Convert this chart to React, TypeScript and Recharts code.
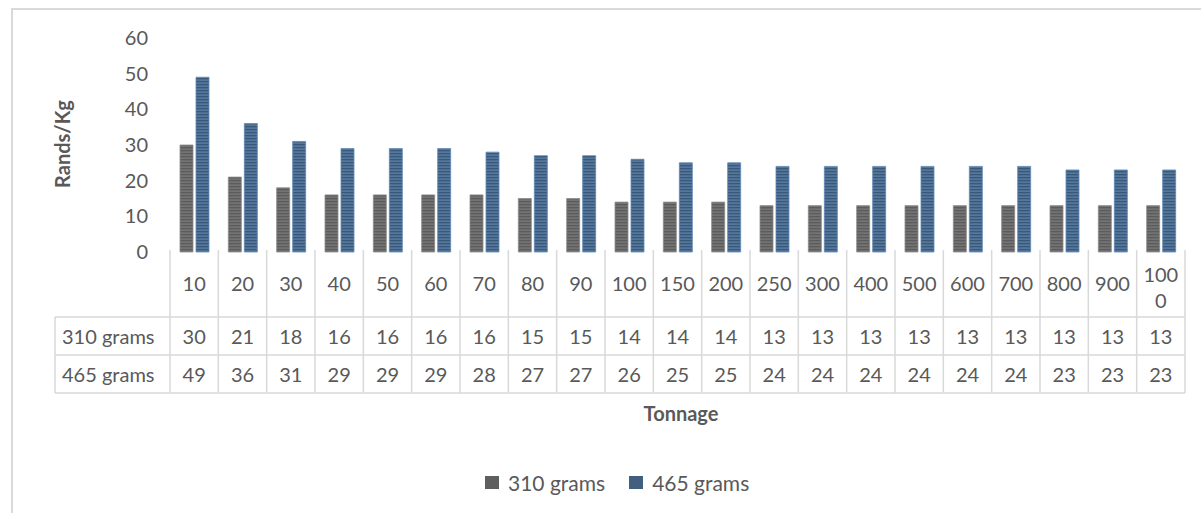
import React from 'react';
import { BarChart, Bar, XAxis, YAxis } from 'recharts';

// tonnage categories and cost per kg for the two bag weights
const TONNAGE = ['10', '20', '30', '40', '50', '60', '70', '80', '90', '100', '150', '200', '250', '300', '400', '500', '600', '700', '800', '900', '1000'];
const GRAMS_310 = [30, 21, 18, 16, 16, 16, 16, 15, 15, 14, 14, 14, 13, 13, 13, 13, 13, 13, 13, 13, 13];
const GRAMS_465 = [49, 36, 31, 29, 29, 29, 28, 27, 27, 26, 25, 25, 24, 24, 24, 24, 24, 24, 23, 23, 23];
const Y_TICKS = [0, 10, 20, 30, 40, 50, 60];

const SERIES = [
    { key: 'g310', name: '310 grams', values: GRAMS_310, fill: 'url(#stripeGray)', swatch: '#5f5f5f', stroke: '#8a8a8a' },
    { key: 'g465', name: '465 grams', values: GRAMS_465, fill: 'url(#stripeBlue)', swatch: '#41607f', stroke: '#5d88b5' },
];

const data = TONNAGE.map((t, i) => ({
    tonnage: t,
    g310: GRAMS_310[i],
    g465: GRAMS_465[i],
}));

const W = 1201;
const H = 513;
const PLOT_LEFT = 170;
const PLOT_RIGHT = 16;
const BAND = (W - PLOT_LEFT - PLOT_RIGHT) / TONNAGE.length;
const HEADER_W = 115;
const FONT = 'Lato, "Open Sans", sans-serif';
const FS = 20;
const TEXT = '#595959';
const GRID = '#d9d9d9';

// draws one column of the data table under the axis
const TableTick = (props: any) => {
    const { x, y, payload } = props;
    const i = TONNAGE.indexOf(payload.value);
    const left = x - BAND / 2;
    const right = x + BAND / 2;
    const label: string = payload.value;
    const lines = label.length > 3 ? [label.slice(0, 3), label.slice(3)] : [label];
    const rowTops = [y + 65, y + 103, y + 141];

    return (
        <g fontFamily={FONT} fontSize={FS} fill={TEXT}>
            <line x1={left} x2={left} y1={y - 2} y2={y + 141} stroke={GRID} strokeWidth={1.5} />
            {i === TONNAGE.length - 1 && (
                <line x1={right} x2={right} y1={y - 2} y2={y + 141} stroke={GRID} strokeWidth={1.5} />
            )}
            {rowTops.map((ry, k) => (
                <line key={k} x1={left} x2={right} y1={ry} y2={ry} stroke={GRID} strokeWidth={1.5} />
            ))}
            {lines.length === 1 ? (
                <text x={x} y={y + 31} textAnchor="middle" dominantBaseline="central">{lines[0]}</text>
            ) : (
                lines.map((l, k) => (
                    <text key={k} x={x} y={y + 22 + k * 26} textAnchor="middle" dominantBaseline="central">{l}</text>
                ))
            )}
            {SERIES.map((s, k) => (
                <text key={s.key} x={x} y={y + 84 + k * 38} textAnchor="middle" dominantBaseline="central">{s.values[i]}</text>
            ))}
            {i === 0 && (
                <g>
                    <line x1={left - HEADER_W} x2={left - HEADER_W} y1={y + 65} y2={y + 141} stroke={GRID} strokeWidth={1.5} />
                    {rowTops.map((ry, k) => (
                        <line key={k} x1={left - HEADER_W} x2={left} y1={ry} y2={ry} stroke={GRID} strokeWidth={1.5} />
                    ))}
                    {SERIES.map((s, k) => (
                        <text key={s.key} x={left - HEADER_W + 7} y={y + 84 + k * 38} dominantBaseline="central">{s.name}</text>
                    ))}
                </g>
            )}
        </g>
    );
};

export default function App() {
    return (
        <div style={{ position: 'absolute', left: 0, top: 0, width: W, height: H, background: '#fff', overflow: 'hidden' }}>
            <div style={{ position: 'absolute', left: 11, top: 8, width: W, height: H, borderTop: `2px solid ${GRID}`, borderLeft: `2px solid ${GRID}` }} />
            <BarChart
                width={W}
                height={H}
                data={data}
                margin={{ top: 38, right: PLOT_RIGHT, bottom: 120, left: 0 }}
                barSize={13}
                barGap={3}
            >
                <defs>
                    <pattern id="stripeGray" width="4" height="3" patternUnits="userSpaceOnUse">
                        <rect width="4" height="3" fill="#737373" />
                        <rect width="4" height="1.3" fill="#5c5c5c" />
                    </pattern>
                    <pattern id="stripeBlue" width="4" height="3" patternUnits="userSpaceOnUse">
                        <rect width="4" height="3" fill="#52789f" />
                        <rect width="4" height="1.3" fill="#3d5877" />
                    </pattern>
                </defs>
                <XAxis
                    dataKey="tonnage"
                    axisLine={false}
                    tickLine={false}
                    tickSize={0}
                    tickMargin={0}
                    height={141}
                    interval={0}
                    tick={<TableTick />}
                />
                <YAxis
                    width={PLOT_LEFT}
                    domain={[0, 60]}
                    ticks={Y_TICKS}
                    axisLine={false}
                    tickLine={false}
                    tickSize={0}
                    tickMargin={22}
                    tick={{ fill: TEXT, fontSize: FS, fontFamily: FONT }}
                />
                {SERIES.map(s => (
                    <Bar key={s.key} dataKey={s.key} name={s.name} fill={s.fill} stroke={s.stroke} strokeWidth={0.8} isAnimationActive={false} />
                ))}
            </BarChart>
            <div style={{ position: 'absolute', left: 62, top: 144, transform: 'translate(-50%, -50%) rotate(-90deg)', fontFamily: FONT, fontWeight: 700, fontSize: 20, color: TEXT, whiteSpace: 'nowrap' }}>
                Rands/Kg
            </div>
            <div style={{ position: 'absolute', left: 681, top: 413, transform: 'translate(-50%, -50%)', fontFamily: FONT, fontWeight: 700, fontSize: 20, color: TEXT, whiteSpace: 'nowrap' }}>
                Tonnage
            </div>
            <div style={{ position: 'absolute', left: 485, top: 470, display: 'flex', alignItems: 'center', fontFamily: FONT, fontSize: 21, color: TEXT, whiteSpace: 'nowrap' }}>
                {SERIES.map((s, k) => (
                    <div key={s.key} style={{ display: 'flex', alignItems: 'center', marginLeft: k === 0 ? 0 : 24 }}>
                        <span style={{ display: 'inline-block', width: 14, height: 13, background: s.swatch, marginRight: 9 }} />
                        <span>{s.name}</span>
                    </div>
                ))}
            </div>
        </div>
    );
}
